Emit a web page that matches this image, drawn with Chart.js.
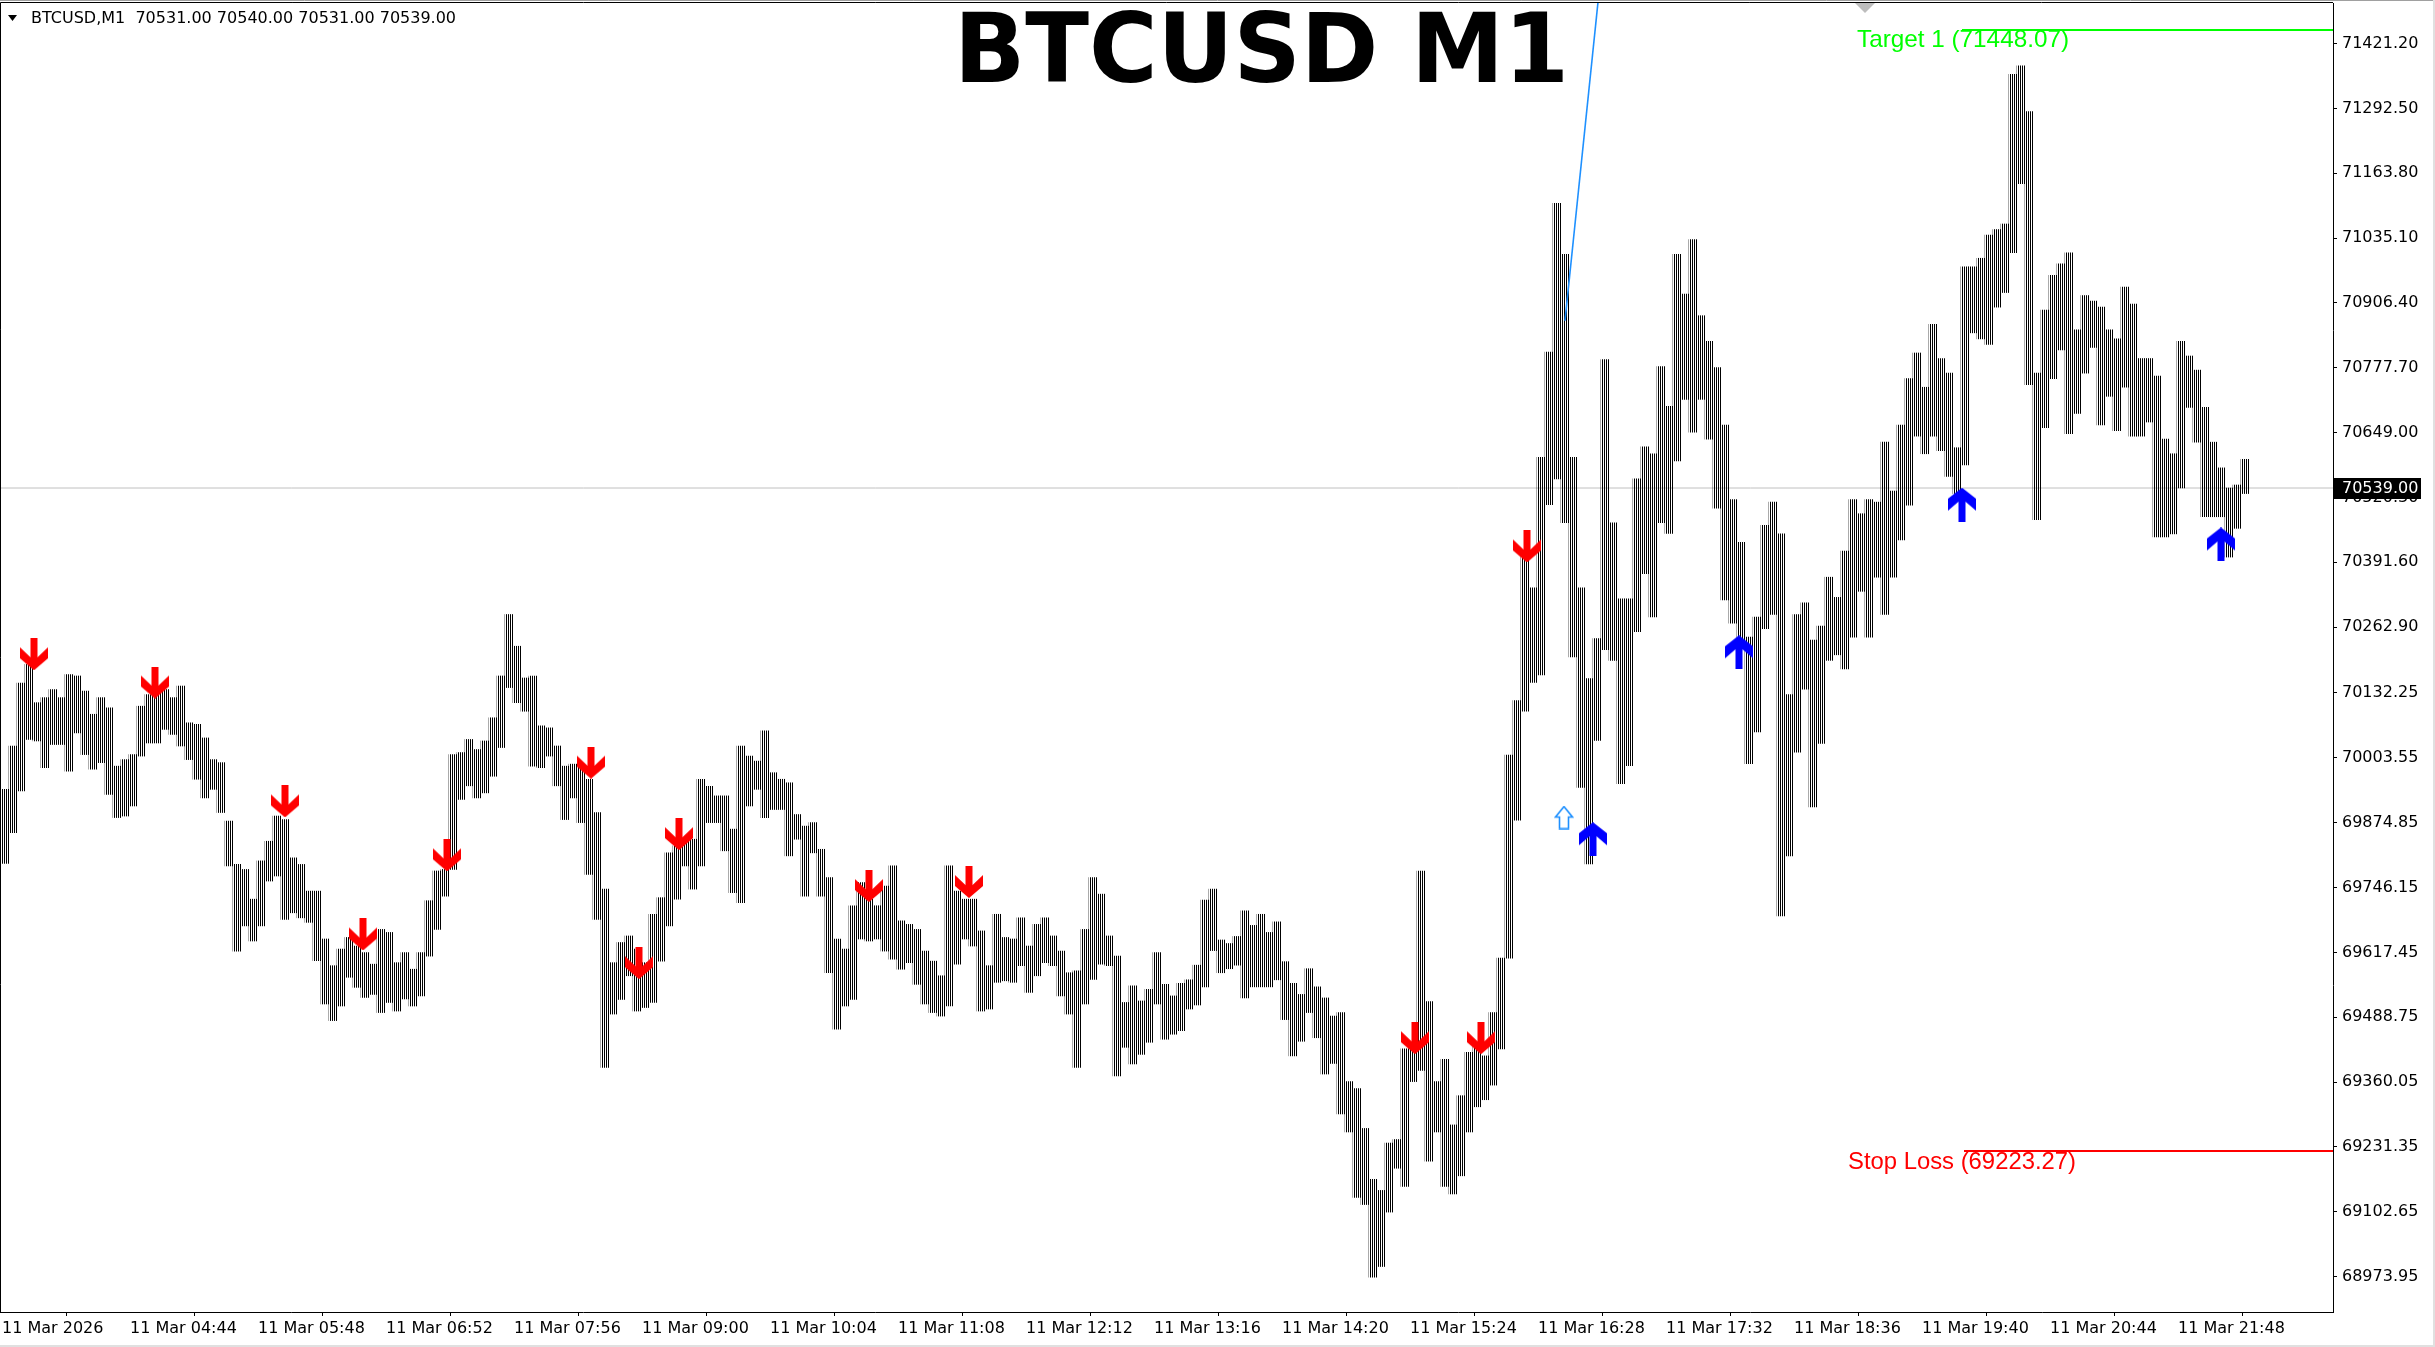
<!DOCTYPE html>
<html><head><meta charset="utf-8">
<script src="https://cdn.jsdelivr.net/npm/chart.js"></script>
<style>html,body{margin:0;padding:0;background:#fff;}canvas{display:block;}</style>
</head><body>
<canvas id="c" width="2435" height="1347" style="width:2435px;height:1347px"></canvas>
<script>
// ---------------- data ----------------
const symbolHeader = 'BTCUSD,M1  70531.00 70540.00 70531.00 70539.00';
const chartTitle = 'BTCUSD M1';
const minutesPerBucket = 4;           // each entry = 4 one-minute bars (03:40 onward)
const highs = [
69941,70027,70152,70189,70113,70123,70139,70123,70169,70166,70136,70090,70123,70103,69987,70000,70010,70106,70129,70133,
70139,70123,70146,70073,70070,70043,70000,69994,69878,69792,69782,69723,69799,69838,69888,69881,69805,69792,69739,69739,
69644,69591,69624,69647,69630,69617,69594,69663,69657,69597,69617,69584,69617,69720,69779,69782,70010,70014,70040,70020,
70037,70083,70166,70288,70225,70162,70166,70067,70063,70027,69987,69991,69987,69961,69895,69743,69597,69637,69650,69624,
69597,69693,69726,69815,69829,69838,69842,69961,69947,69928,69928,69862,70027,70007,69997,70057,69974,69961,69954,69891,
69868,69875,69822,69766,69644,69624,69710,69756,69723,69710,69749,69789,69680,69673,69663,69620,69600,69571,69789,69739,
69723,69723,69660,69591,69693,69647,69644,69686,69630,69673,69686,69650,69620,69577,69581,69663,69766,69733,69650,69610,
69518,69551,69521,69544,69617,69554,69531,69556,69563,69592,69721,69743,69642,69635,69649,69700,69671,69693,69657,69678,
69599,69556,69534,69585,69549,69527,69491,69498,69361,69347,69268,69167,69145,69239,69246,69426,69433,69779,69520,69361,
69405,69275,69333,69419,69433,69412,69498,69606,70009,70117,70405,70341,70600,70809,71104,71003,70600,70341,70161,70240,
70794,70470,70319,70319,70557,70621,70607,70780,70701,71003,70924,71032,70881,70830,70778,70664,70516,70431,70243,70283,
70465,70511,70448,70129,70288,70311,70237,70265,70362,70322,70414,70516,70488,70516,70511,70630,70533,70664,70756,70807,
70739,70864,70796,70767,70619,70978,70978,70995,71041,71052,71063,71360,71377,71286,70767,70892,70961,70984,71006,70853,
70921,70910,70898,70853,70835,70938,70904,70796,70796,70761,70636,70607,70830,70801,70773,70699,70630,70579,70539,70545,
70596];
const lows = [
69794,69855,69938,70040,70037,69984,70030,70030,69977,70053,70010,69981,69994,69931,69885,69888,69908,70007,70033,70033,
70060,70050,70027,70000,69961,69924,69941,69895,69789,69620,69670,69640,69670,69759,69769,69683,69696,69686,69677,69601,
69515,69482,69511,69568,69548,69528,69534,69498,69518,69501,69525,69511,69531,69610,69663,69729,69782,69921,69948,69924,
69934,69967,70024,70143,70113,70096,69987,69984,70007,69948,69881,69924,69875,69772,69683,69389,69495,69524,69571,69501,
69508,69518,69600,69670,69723,69789,69743,69789,69875,69875,69819,69736,69716,69908,69941,69885,69901,69901,69809,69842,
69729,69815,69729,69577,69465,69511,69524,69644,69640,69644,69620,69604,69584,69597,69554,69515,69498,69491,69511,69594,
69644,69630,69501,69505,69558,69561,69558,69591,69538,69571,69597,69591,69531,69495,69389,69515,69564,69594,69591,69372,
69429,69396,69415,69439,69515,69445,69455,69462,69505,69513,69549,69621,69577,69585,69592,69527,69549,69549,69549,69563,
69484,69412,69441,69498,69448,69376,69397,69297,69261,69131,69117,68973,68994,69102,69189,69153,69361,69383,69203,69261,
69153,69138,69174,69261,69311,69325,69354,69426,69606,69880,70096,70153,70168,70506,70557,70470,70204,69945,69793,70038,
70218,70197,69952,69988,70254,70369,70283,70470,70449,70593,70715,70650,70715,70636,70499,70317,70271,70231,69992,70055,
70260,70288,69690,69809,70015,70140,69906,70032,70197,70208,70180,70243,70334,70243,70362,70288,70362,70436,70505,70642,
70607,70642,70613,70562,70528,70585,70847,70835,70824,70898,70927,71006,71143,70744,70476,70659,70756,70813,70647,70687,
70767,70818,70664,70721,70653,70739,70642,70642,70670,70442,70442,70448,70539,70699,70630,70482,70482,70482,70402,70459,
70528];
const xTickMinutes = [0,64,128,192,256,320,384,448,512,576,640,704,768,832,896,960,1024,1088];
const xTickLabels = ['11 Mar 2026','11 Mar 04:44','11 Mar 05:48','11 Mar 06:52','11 Mar 07:56','11 Mar 09:00',
  '11 Mar 10:04','11 Mar 11:08','11 Mar 12:12','11 Mar 13:16','11 Mar 14:20','11 Mar 15:24','11 Mar 16:28',
  '11 Mar 17:32','11 Mar 18:36','11 Mar 19:40','11 Mar 20:44','11 Mar 21:48'];
const yTickValues = [71421.20,71292.50,71163.80,71035.10,70906.40,70777.70,70649.00,70520.30,70391.60,70262.90,
  70132.25,70003.55,69874.85,69746.15,69617.45,69488.75,69360.05,69231.35,69102.65,68973.95];
const lastClose = 70539.00;
const targetPrice = 71448.07;
const stopPrice = 69223.27;
const targetStartMinute = 980;
const stopStartMinute = 981;
const targetText = 'Target 1 (71448.07)';
const stopText = 'Stop Loss (69223.27)';
const targetTextAt = [927.5, 71428];
const stopTextAt = [923, 69201];
const redArrowMinute = [16,76.5,141.5,180.5,222.5,294.5,318.5,338.5,433.5,483.5,706.5,739.5,762.5];
const redArrowPrice  = [70209,70153,69917,69653,69810,69994,69596,69852,69749,69757,69447,69447,70423];
const blueArrowMinute = [795.5,868.5,980,1109.5];
const blueArrowPrice  = [69842,70213,70506,70427];
const hollowArrowMinute = [781];
const hollowArrowPrice  = [69885];
const trendMinute = [781.5, 800];
const trendPrice  = [70871, 71580];

// ---------------- styles / helpers ----------------
const FONT = '"DejaVu Sans", Verdana, sans-serif';
function barPattern() {
  const c = document.createElement('canvas'); c.width = 2; c.height = 1;
  const g = c.getContext('2d'); g.fillStyle = '#000'; g.fillRect(0, 0, 1, 1);
  return document.getElementById('c').getContext('2d').createPattern(c, 'repeat');
}
function polyCanvas(w, h, pts, fill, stroke, lw) {
  const c = document.createElement('canvas'); c.width = w; c.height = h;
  const g = c.getContext('2d');
  g.beginPath(); pts.forEach((p, i) => i ? g.lineTo(p[0], p[1]) : g.moveTo(p[0], p[1])); g.closePath();
  g.fillStyle = fill; g.fill();
  if (stroke) { g.strokeStyle = stroke; g.lineWidth = lw; g.stroke(); }
  return c;
}
const redArrow = polyCanvas(28, 32, [[10.5,0],[17.5,0],[17.5,19],[28,9],[28,20],[14,32],[0,20],[0,9],[10.5,19]], '#FF0000');
const blueArrow = polyCanvas(28, 34, [[14,0],[28,11],[28,23],[17.5,14],[17.5,34],[10.5,34],[10.5,14],[0,23],[0,11]], '#0000FF');
const hollowArrow = polyCanvas(20, 24, [[10,1],[18.5,11.5],[14.5,11.5],[14.5,23],[5.5,23],[5.5,11.5],[1.5,11.5]], '#FFFFFF', '#1E90FF', 1.6);

const priceBars = highs.map((h, k) => ({ x: k * minutesPerBucket + (minutesPerBucket - 1) / 2, y: [lows[k], h] }));
const pts = (xs, ys) => xs.map((x, i) => ({ x, y: ys[i] }));

const overlay = {
  id: 'overlay',
  afterDatasetsDraw(chart) {
    const { ctx, chartArea: a, scales: { x, y } } = chart;
    ctx.save();
    // chart frame (top + left)
    ctx.strokeStyle = '#000'; ctx.lineWidth = 1;
    ctx.beginPath(); ctx.moveTo(a.left + 0.5, a.bottom); ctx.lineTo(a.left + 0.5, a.top - 0.5); ctx.lineTo(a.right, a.top - 0.5); ctx.stroke();
    ctx.strokeStyle = '#A0A0A0';
    ctx.beginPath(); ctx.moveTo(0, 0.5); ctx.lineTo(2435, 0.5); ctx.stroke();
    // shift marker
    ctx.fillStyle = '#BDBDBD';
    ctx.beginPath(); ctx.moveTo(1855, 3); ctx.lineTo(1875, 3); ctx.lineTo(1865, 13); ctx.closePath(); ctx.fill();
    // fitted text helper
    const fitText = (txt, font, color, px, py, width, align, base) => {
      ctx.font = font; ctx.fillStyle = color; ctx.textBaseline = base; ctx.textAlign = 'left';
      const w = ctx.measureText(txt).width;
      ctx.save(); ctx.translate(align === 'center' ? px - width / 2 : px, py); ctx.scale(width / w, 1);
      ctx.fillText(txt, 0, 0); ctx.restore();
    };
    fitText(targetText, '24px "Liberation Sans", Arial, sans-serif', '#00FF00',
      x.getPixelForValue(targetTextAt[0]), y.getPixelForValue(targetTextAt[1]), 212, 'left', 'middle');
    fitText(stopText, '24px "Liberation Sans", Arial, sans-serif', '#FF0000',
      x.getPixelForValue(stopTextAt[0]), y.getPixelForValue(stopTextAt[1]), 228, 'left', 'middle');
    fitText(chartTitle, 'bold 96px "DejaVu Sans", sans-serif', '#000', 1261.5, 82, 615, 'center', 'alphabetic');
    // header
    ctx.fillStyle = '#000';
    ctx.beginPath(); ctx.moveTo(8, 15); ctx.lineTo(17, 15); ctx.lineTo(12.5, 21); ctx.closePath(); ctx.fill();
    ctx.font = '16px ' + FONT; ctx.textBaseline = 'middle'; ctx.textAlign = 'left';
    ctx.fillText(symbolHeader, 31, 19);
    ctx.restore();
  },
  afterDraw(chart) {
    const { ctx, scales: { y } } = chart;
    const py = Math.round(y.getPixelForValue(lastClose));
    ctx.save();
    ctx.fillStyle = '#000'; ctx.fillRect(2334, py - 10, 87, 21);
    ctx.fillStyle = '#fff'; ctx.font = '16px ' + FONT; ctx.textBaseline = 'middle'; ctx.textAlign = 'left';
    ctx.fillText(lastClose.toFixed(2), 2342, py + 0.5);
    ctx.fillStyle = '#E0E0E0'; ctx.fillRect(0, 1345, 2435, 2); ctx.fillRect(2433, 0, 2, 1347);
    ctx.restore();
  }
};

new Chart(document.getElementById('c'), {
  type: 'bar',
  data: {
    datasets: [
      { type: 'line', order: 0, data: pts(redArrowMinute, redArrowPrice), showLine: false, pointStyle: redArrow, pointRadius: 10 },
      { type: 'line', order: 0, data: pts(blueArrowMinute, blueArrowPrice), showLine: false, pointStyle: blueArrow, pointRadius: 10 },
      { type: 'line', order: 0, data: pts(hollowArrowMinute, hollowArrowPrice), showLine: false, pointStyle: hollowArrow, pointRadius: 10 },
      { type: 'line', order: 1, data: [{ x: targetStartMinute, y: targetPrice }, { x: 1166, y: targetPrice }], borderColor: '#00FF00', borderWidth: 2, pointRadius: 0 },
      { type: 'line', order: 1, data: [{ x: stopStartMinute, y: stopPrice }, { x: 1166, y: stopPrice }], borderColor: '#FF0000', borderWidth: 2, pointRadius: 0 },
      { type: 'line', order: 2, data: pts(trendMinute, trendPrice), borderColor: '#1E90FF', borderWidth: 1.6, pointRadius: 0 },
      { type: 'bar', order: 3, data: priceBars, backgroundColor: barPattern(), borderWidth: 0, barThickness: 8, grouped: false },
      { type: 'line', order: 4, data: [{ x: -1, y: lastClose }, { x: 1166, y: lastClose }], borderColor: '#C0C0C0', borderWidth: 1, pointRadius: 0 }
    ]
  },
  options: {
    responsive: false, animation: false, devicePixelRatio: 1,
    layout: { autoPadding: false, padding: { top: 3, left: 0, right: 0, bottom: 0 } },
    plugins: { legend: { display: false }, tooltip: { enabled: false } },
    scales: {
      x: {
        type: 'linear', min: -1, max: 1165.5, offset: false,
        grid: { drawOnChartArea: false, drawTicks: true, tickLength: 4, color: '#000' },
        border: { display: true, color: '#000', width: 1 },
        afterBuildTicks: s => { s.ticks = xTickMinutes.map(v => ({ value: v })); },
        afterFit: s => { s.height = 35; s.paddingLeft = 0; s.paddingRight = 0; s.paddingTop = 0; s.paddingBottom = 0; },
        ticks: { autoSkip: false, maxRotation: 0, align: 'start', padding: 3, color: '#000',
          font: { family: FONT, size: 16 },
          callback: v => xTickLabels[xTickMinutes.indexOf(v)] }
      },
      y: {
        type: 'linear', position: 'right', min: 68903.7, max: 71501.6,
        grid: { drawOnChartArea: false, drawTicks: true, tickLength: 4, color: '#000' },
        border: { display: true, color: '#000', width: 1 },
        afterBuildTicks: s => { s.ticks = yTickValues.map(v => ({ value: v })); },
        afterFit: s => { s.width = 102; s.paddingLeft = 0; s.paddingRight = 0; s.paddingTop = 0; s.paddingBottom = 0; },
        ticks: { autoSkip: false, padding: 5, crossAlign: 'near', color: '#000',
          font: { family: FONT, size: 16 },
          callback: v => Number(v).toFixed(2) }
      }
    }
  },
  plugins: [overlay]
});
</script>
</body></html>
